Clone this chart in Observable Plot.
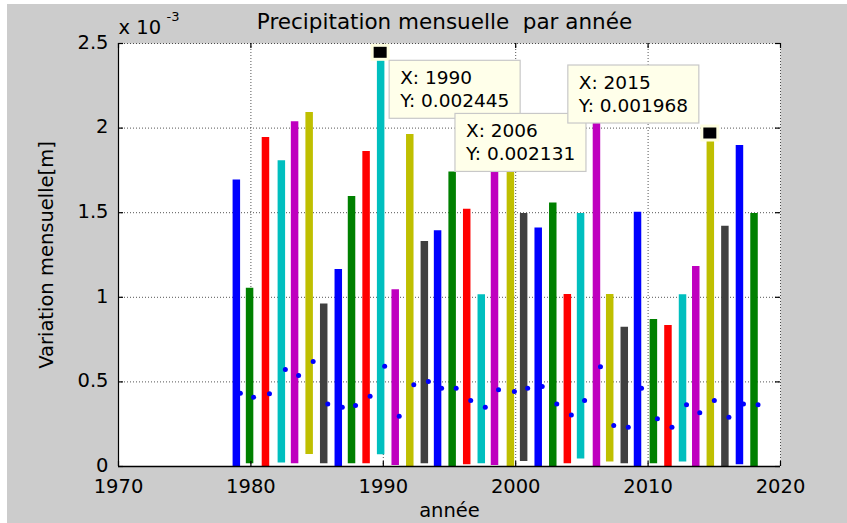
<!DOCTYPE html>
<html>
<head>
<meta charset="utf-8">
<script src="https://cdn.jsdelivr.net/npm/d3@7"></script>
<script src="https://cdn.jsdelivr.net/npm/@observablehq/plot@0.6"></script>
<style>
  html, body { margin: 0; padding: 0; background: #ffffff; width: 847px; height: 523px; overflow: hidden; }
  #bg { position: absolute; left: 7px; top: 4px; width: 840px; height: 519px; background: #cccccc; }
  #chart { position: absolute; left: 0; top: 0; }
</style>
</head>
<body>
<div id="bg"></div>
<div id="chart"></div>
<script>
// ---- data ----
const barX = [1978.9, 1979.9, 1981.1, 1982.3, 1983.3, 1984.4, 1985.5, 1986.6, 1987.6, 1988.7,
              1989.8, 1990.9, 1992.0, 1993.1, 1994.1, 1995.2, 1996.3, 1997.4, 1998.4, 1999.6,
              2000.6, 2001.7, 2002.8, 2003.9, 2004.9, 2006.1, 2007.1, 2008.2, 2009.2, 2010.4,
              2011.5, 2012.6, 2013.6, 2014.7, 2015.8, 2016.9, 2018.0];
const barTop = [0.001694, 0.001054, 0.001944, 0.001807, 0.002037, 0.002092, 0.000961, 0.001164, 0.001596, 0.001862,
                0.002445, 0.001044, 0.001962, 0.001330, 0.001393, 0.001740, 0.001521, 0.001015, 0.001900, 0.001850,
                0.001495, 0.001410, 0.001558, 0.001016, 0.001495, 0.002131, 0.001016, 0.000823, 0.001503, 0.000869,
                0.000833, 0.001015, 0.001182, 0.001968, 0.001420, 0.001897, 0.001495];
const barBottom = [0, 0.000016, 0, 0.000020, 0.000016, 0.000071, 0.000016, 0, 0.000016, 0.000016,
                   0.000070, 0.000006, 0, 0.000016, 0, 0, 0.000010, 0.000016, 0.000006, 0,
                   0.000030, 0, 0, 0.000016, 0.000045, 0, 0.000026, 0.000016, 0, 0.000016,
                   0, 0.000026, 0, 0, 0, 0.000010, 0];
const barMean = [0.000433, 0.000410, 0.000430, 0.000573, 0.000538, 0.000620, 0.000370, 0.000350, 0.000360, 0.000415,
                 0.000593, 0.000297, 0.000483, 0.000502, 0.000463, 0.000463, 0.000390, 0.000350, 0.000453, 0.000443,
                 0.000463, 0.000473, 0.000370, 0.000305, 0.000390, 0.000590, 0.000242, 0.000232, 0.000463, 0.000282,
                 0.000232, 0.000365, 0.000317, 0.000390, 0.000291, 0.000370, 0.000365];
const xTicks = [1970, 1980, 1990, 2000, 2010, 2020];
const xTickLabels = ["1970", "1980", "1990", "2000", "2010", "2020"];
const yTicks = [0, 0.0005, 0.001, 0.0015, 0.002, 0.0025];
const yTickLabels = ["0", "0.5", "1", "1.5", "2", "2.5"];
const tipX = [1990, 2006, 2015];
const tipY = [0.002445, 0.002131, 0.001968];
const tipLabelY = ["0.002445", "0.002131", "0.001968"];
const tipBar = [10, 25, 33];
const titleText = "Precipitation mensuelle  par année";
const xLabelText = "année";
const yLabelText = "Variation mensuelle[m]";

// ---- styles ----
const colorOrder = ["#0000ff", "#008000", "#ff0000", "#00bfbf", "#bf00bf", "#bfbf00", "#404040"];
const FONT = "DejaVu Sans";

const bars = barX.map((x, i) => ({x, top: barTop[i], bottom: barBottom[i], mean: barMean[i], k: i % colorOrder.length}));

const W = 847, H = 523, ML = 118, MR = 67, MT = 43, MB = 57;
const PW = W - ML - MR, PH = H - MT - MB;
const gridStyle = {stroke: "#000", strokeOpacity: 0.85, strokeWidth: 0.8, strokeDasharray: "1,2"};

const chart = Plot.plot({
  width: W, height: H,
  marginLeft: ML, marginRight: MR, marginTop: MT, marginBottom: MB,
  style: {background: "transparent", fontFamily: FONT, color: "#000", overflow: "visible"},
  x: {domain: [1970, 2020], axis: null},
  y: {domain: [0, 0.0025], axis: null},
  color: {type: "ordinal", domain: d3.range(colorOrder.length), range: colorOrder},
  marks: [
    Plot.frame({fill: "#ffffff", stroke: "none"}),
    Plot.ruleX(xTicks.slice(1, -1), gridStyle),
    Plot.ruleY(yTicks.slice(1, -1), gridStyle),
    Plot.ruleY([0.0025], gridStyle),
    Plot.ruleX([2020], gridStyle),
    Plot.ruleX(bars, {x: "x", y1: "bottom", y2: "top", stroke: "k", strokeWidth: 7.5}),
    Plot.dot(bars, {x: "x", y: "mean", dx: 4, r: 2.5, fill: "#0000ff", stroke: "none"}),
    Plot.ruleX([1970], {stroke: "#000", strokeWidth: 1.2}),
    Plot.ruleY([0], {stroke: "#000", strokeWidth: 1.6}),
    // inward ticks
    Plot.ruleX(xTicks, {insetTop: PH - 5, stroke: "#000", strokeWidth: 1.2}),
    Plot.ruleX(xTicks, {insetBottom: PH - 5, stroke: "#000", strokeWidth: 1.2}),
    Plot.ruleY(yTicks, {insetRight: PW - 5, stroke: "#000", strokeWidth: 1.2}),
    Plot.ruleY(yTicks, {insetLeft: PW - 5, stroke: "#000", strokeWidth: 1.2}),
    // tick labels
    Plot.text(xTicks, {x: d => d, frameAnchor: "bottom", lineAnchor: "top", dy: 13,
      text: (d, i) => xTickLabels[i], fontSize: 19.5, fill: "#000"}),
    Plot.text(yTicks, {y: d => d, frameAnchor: "left", textAnchor: "end", dx: -10, dy: -1,
      text: (d, i) => yTickLabels[i], fontSize: 19.5, fill: "#000"}),
    // exponent
    Plot.text(["x 10"], {frameAnchor: "top-left", textAnchor: "start", lineAnchor: "bottom", dy: -10, fontSize: 19.5, fill: "#000"}),
    Plot.text(["-3"], {frameAnchor: "top-left", textAnchor: "start", lineAnchor: "bottom", dx: 48, dy: -23, fontSize: 13, fill: "#000"}),
    // title and labels
    Plot.text([titleText], {frameAnchor: "top", lineAnchor: "bottom", dx: -5, dy: -15, fontSize: 21.5, fill: "#000"}),
    Plot.text([xLabelText], {frameAnchor: "bottom", lineAnchor: "bottom", dy: 50, fontSize: 19.5, fill: "#000"}),
    Plot.text([yLabelText], {frameAnchor: "left", textAnchor: "middle", lineAnchor: "middle", rotate: -90, dx: -72, fontSize: 19.5, fill: "#000"})
  ]
});

document.getElementById("chart").appendChild(chart);

// ---- data tips, placed through the chart's own scales ----
const sx = chart.scale("x"), sy = chart.scale("y");
const svg = d3.select(chart);
const tipLayer = svg.append("g").attr("text-anchor", "start");
const boxOffset = [[9, 8], [-141, 8], [-142, -68]];
const pts = tipX.map((t, i) => ({mx: sx.apply(barX[tipBar[i]]), my: sy.apply(tipY[i])}));
pts.forEach(p => {
  tipLayer.append("rect").attr("x", p.mx - 8).attr("y", p.my - 7).attr("width", 16).attr("height", 14)
    .attr("fill", "#000").attr("stroke", "#ffffe0").attr("stroke-width", 3);
});
pts.forEach((p, i) => {
  const bx = p.mx + boxOffset[i][0], by = p.my + boxOffset[i][1];
  const g = tipLayer.append("g");
  g.append("rect").attr("x", bx).attr("y", by).attr("width", 131).attr("height", 58)
    .attr("fill", "#ffffea").attr("stroke", "#c8c8c8").attr("stroke-width", 1.2);
  g.append("text").attr("x", bx + 11).attr("y", by + 24).attr("text-anchor", "start").attr("font-family", FONT).attr("font-size", 18.5)
    .attr("fill", "#000").text("X: " + tipX[i]);
  g.append("text").attr("x", bx + 11).attr("y", by + 47).attr("text-anchor", "start").attr("font-family", FONT).attr("font-size", 18.5)
    .attr("fill", "#000").text("Y: " + tipLabelY[i]);
});
</script>
</body>
</html>
